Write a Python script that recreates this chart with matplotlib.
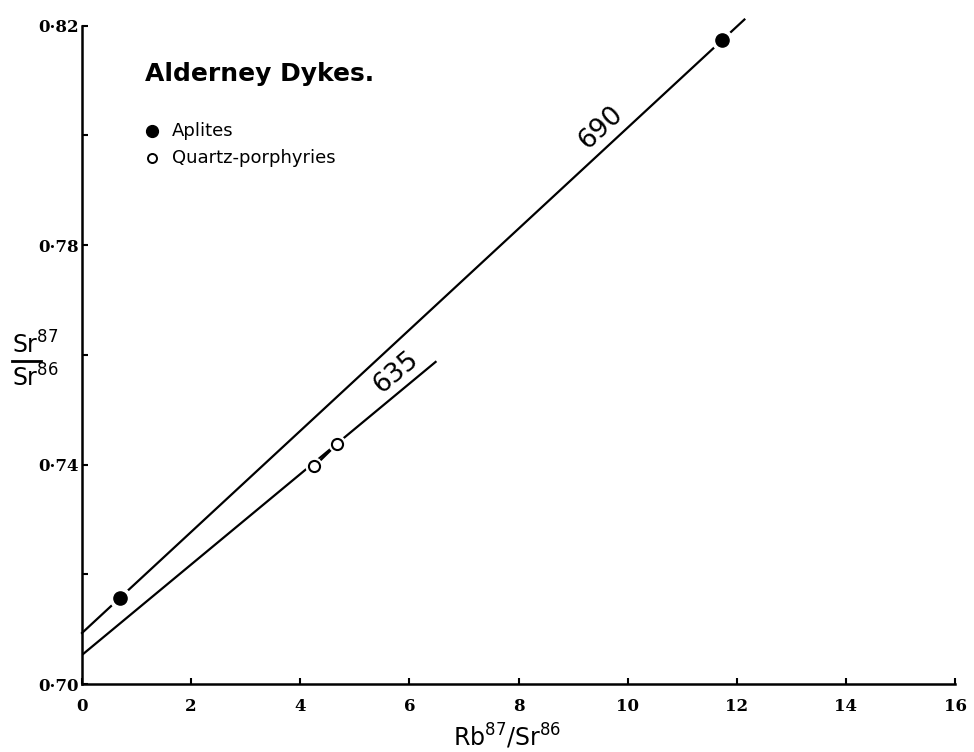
import matplotlib.pyplot as plt
from matplotlib.lines import Line2D

# 数据
aplite_x = [0.70, 11.73]
aplite_y = [0.7157, 0.8173]
quartz_x = [4.26, 4.67]
quartz_y = [0.7397, 0.7437]

# isochrons (Ma)
iso690_x = [0.0, 12.14]
iso690_y = [0.7093, 0.8211]
iso635_x = [0.0, 6.48]
iso635_y = [0.7053, 0.7587]

x_ticks = [0, 2, 4, 6, 8, 10, 12, 14, 16]
y_ticks = [0.70, 0.72, 0.74, 0.76, 0.78, 0.80, 0.82]
y_tick_labels = ['0·70', '', '0·74', '', '0·78', '', '0·82']

fig = plt.figure(figsize=(9.74, 7.52), dpi=100)
ax = fig.add_axes([0.0842, 0.0904, 0.8963, 0.8756])

# 等时线
ax.plot(iso690_x, iso690_y, color='black', lw=1.6, zorder=2, clip_on=False)
ax.plot(iso635_x, iso635_y, color='black', lw=1.6, zorder=2)

# white halo so the line breaks around each point
ax.plot(aplite_x, aplite_y, 'o', color='white', ms=15, zorder=3, clip_on=False)
ax.plot(quartz_x, quartz_y, 'o', color='white', ms=12, zorder=3)
ax.plot(aplite_x, aplite_y, 'o', color='black', ms=9.5, zorder=4, clip_on=False)
ax.plot(quartz_x, quartz_y, 'o', mfc='white', mec='black', mew=1.5, ms=8, zorder=4)

# short dash linking the two open circles
dx = quartz_x[1] - quartz_x[0]
dy = quartz_y[1] - quartz_y[0]
ax.plot([quartz_x[0] + 0.27 * dx, quartz_x[0] + 0.73 * dx],
        [quartz_y[0] + 0.27 * dy, quartz_y[0] + 0.73 * dy],
        color='black', lw=1.6, zorder=3.5, solid_capstyle='butt')

ax.text(9.50, 0.8013, '690', fontsize=19, rotation=43, ha='center', va='center',
        family='DejaVu Sans')
ax.text(5.76, 0.7568, '635', fontsize=19, rotation=40, ha='center', va='center',
        family='DejaVu Sans')

ax.set_xlim(0, 16)
ax.set_ylim(0.70, 0.82)
for s in ['top', 'right']:
    ax.spines[s].set_visible(False)
for s in ['left', 'bottom']:
    ax.spines[s].set_linewidth(1.8)

ax.set_xticks(x_ticks)
ax.set_yticks(y_ticks)
ax.set_yticklabels(y_tick_labels)
ax.tick_params(direction='in', length=4, width=1.5)
ax.tick_params(axis='x', pad=10)
ax.tick_params(axis='y', pad=2)
for lab in ax.get_xticklabels() + ax.get_yticklabels():
    lab.set_family('DejaVu Serif')
    lab.set_fontweight('bold')
    lab.set_fontsize(12)

# axis labels
fig.text(507 / 974, 1 - 737 / 752, r'Rb$^{87}$/Sr$^{86}$', fontsize=17,
         ha='center', va='center', family='DejaVu Sans')
fig.text(12 / 974, 1 - 345 / 752, r'Sr$^{87}$', fontsize=17, ha='left', va='center',
         family='DejaVu Sans')
fig.text(12 / 974, 1 - 378 / 752, r'Sr$^{86}$', fontsize=17, ha='left', va='center',
         family='DejaVu Sans')
fig.add_artist(Line2D([12 / 974, 41 / 974], [1 - 361 / 752, 1 - 361 / 752],
                      color='black', lw=2, transform=fig.transFigure))

# title and legend
fig.text(145 / 974, 1 - 74 / 752, 'Alderney Dykes.', fontsize=18, fontweight='bold',
         ha='left', va='center', family='DejaVu Sans')
fig.add_artist(Line2D([152 / 974], [1 - 131 / 752], marker='o', color='black',
                      ms=8.5, transform=fig.transFigure))
fig.add_artist(Line2D([152 / 974], [1 - 158 / 752], marker='o', mfc='white',
                      mec='black', mew=1.4, ms=6.5, transform=fig.transFigure))
fig.text(172 / 974, 1 - 131 / 752, 'Aplites', fontsize=13, ha='left', va='center',
         family='DejaVu Sans')
fig.text(172 / 974, 1 - 158 / 752, 'Quartz-porphyries', fontsize=13, ha='left',
         va='center', family='DejaVu Sans')

plt.savefig('out.png', dpi=100)
